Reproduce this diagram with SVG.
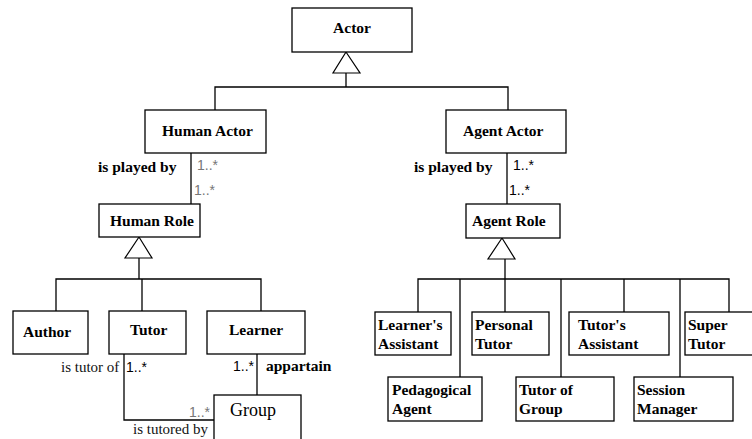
<svg xmlns="http://www.w3.org/2000/svg" width="752" height="439" viewBox="0 0 752 439">
<style>
.box{fill:#fff;stroke:#000;stroke-width:1.3}
.ln{fill:none;stroke:#000;stroke-width:1.3}
.tri{fill:#fff;stroke:#000;stroke-width:1.2}
.b{font-family:"Liberation Serif",serif;font-weight:bold;font-size:15.5px;fill:#000}
.r{font-family:"Liberation Serif",serif;font-size:15px;fill:#111}
.m{font-family:"Liberation Sans",sans-serif;font-size:14px;fill:#000}
.g{font-family:"Liberation Sans",sans-serif;font-size:14px;fill:#777}
</style>
<rect width="752" height="439" fill="#fff"/>
<g id="connectors">
<polyline class="ln" points="215,110 215,87 508,87 508,110"/>
<line class="ln" x1="346" y1="73" x2="346" y2="87"/>
<polygon class="tri" points="346,52 333,73 360,73"/>
<line class="ln" x1="191" y1="153" x2="191" y2="204"/>
<line class="ln" x1="507" y1="153" x2="507" y2="204"/>
<polygon class="tri" points="139,237 125,258 152,258"/>
<line class="ln" x1="139" y1="258" x2="139" y2="279"/>
<polyline class="ln" points="56,311 56,279 261,279 261,311"/>
<line class="ln" x1="142" y1="279" x2="142" y2="311"/>
<polygon class="tri" points="502,238 488,259 515,259"/>
<line class="ln" x1="505" y1="259" x2="505" y2="312"/>
<polyline class="ln" points="418,312 418,279 729,279 729,312"/>
<line class="ln" x1="460" y1="279" x2="460" y2="377"/>
<line class="ln" x1="561" y1="279" x2="561" y2="377"/>
<line class="ln" x1="624" y1="279" x2="624" y2="312"/>
<line class="ln" x1="680" y1="279" x2="680" y2="377"/>
<polyline class="ln" points="124,354 124,420 214,420"/>
<line class="ln" x1="257" y1="354" x2="257" y2="395"/>
<text class="b" x="98" y="172">is played by</text>
<text class="g" x="197" y="170">1..*</text>
<text class="g" x="194" y="195">1..*</text>
<text class="b" x="414" y="172">is played by</text>
<text class="m" x="513" y="170">1..*</text>
<text class="m" x="509" y="195">1..*</text>
<text class="r" x="61" y="372">is tutor of</text>
<text class="m" x="126" y="372">1..*</text>
<text class="m" x="233" y="371">1..*</text>
<text class="b" x="266" y="371">appartain</text>
<text class="g" x="189" y="417">1..*</text>
<text class="r" x="133" y="434">is tutored by</text>
</g>
<g id="actor"><rect class="box" x="292" y="8" width="120" height="44"/><text class="b" x="352" y="33" text-anchor="middle">Actor</text></g>
<g id="human-actor"><rect class="box" x="145" y="110" width="121" height="43"/><text class="b" x="162" y="136">Human Actor</text></g>
<g id="agent-actor"><rect class="box" x="446" y="110" width="120" height="43"/><text class="b" x="463" y="136">Agent Actor</text></g>
<g id="human-role"><rect class="box" x="99" y="204" width="101" height="33"/><text class="b" x="110" y="226">Human Role</text></g>
<g id="agent-role"><rect class="box" x="466" y="204" width="94" height="34"/><text class="b" x="472" y="226">Agent Role</text></g>
<g id="author"><rect class="box" x="13" y="311" width="75" height="43"/><text class="b" x="23" y="337">Author</text></g>
<g id="tutor"><rect class="box" x="109" y="311" width="77" height="43"/><text class="b" x="130" y="335">Tutor</text></g>
<g id="learner"><rect class="box" x="207" y="311" width="98" height="43"/><text class="b" x="229" y="335">Learner</text></g>
<g id="group"><rect class="box" x="214" y="395" width="87" height="50"/><text x="230" y="416" style="font-family:'Liberation Serif',serif;font-size:18px;fill:#000">Group</text></g>
<g id="learners-assistant"><rect class="box" x="375" y="312" width="76" height="43"/><text class="b" x="378" y="330">Learner's</text><text class="b" x="378" y="349">Assistant</text></g>
<g id="personal-tutor"><rect class="box" x="472" y="312" width="77" height="43"/><text class="b" x="475" y="330">Personal</text><text class="b" x="475" y="349">Tutor</text></g>
<g id="tutors-assistant"><rect class="box" x="569" y="312" width="100" height="43"/><text class="b" x="578" y="330">Tutor's</text><text class="b" x="578" y="349">Assistant</text></g>
<g id="super-tutor"><rect class="box" x="685" y="312" width="70" height="43"/><text class="b" x="688" y="330">Super</text><text class="b" x="688" y="349">Tutor</text></g>
<g id="pedagogical-agent"><rect class="box" x="388" y="377" width="94" height="44"/><text class="b" x="392" y="395">Pedagogical</text><text class="b" x="392" y="414">Agent</text></g>
<g id="tutor-of-group"><rect class="box" x="516" y="377" width="98" height="44"/><text class="b" x="519" y="395">Tutor of</text><text class="b" x="519" y="414">Group</text></g>
<g id="session-manager"><rect class="box" x="634" y="377" width="99" height="44"/><text class="b" x="637" y="395">Session</text><text class="b" x="637" y="414">Manager</text></g>
</svg>
